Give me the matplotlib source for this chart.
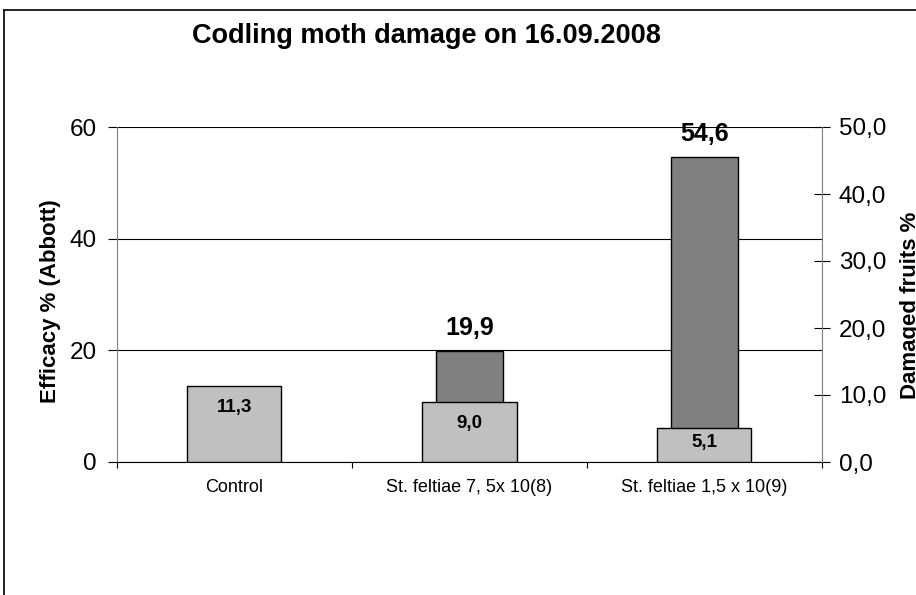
import numpy as np
import matplotlib
matplotlib.use("Agg")
import matplotlib.pyplot as plt
from matplotlib.lines import Line2D

plt.rcParams['font.family'] = ['Liberation Sans', 'DejaVu Sans']

# data
categories = ['Control', 'St. feltiae 7, 5x 10(8)', 'St. feltiae 1,5 x 10(9)']
efficacy = [np.nan, 19.9, 54.6]       # left axis, Abbott %
damaged = [11.3, 9.0, 5.1]            # right axis, damaged fruits %
left_ticks = [0, 20, 40, 60]
right_ticks = [0, 10, 20, 30, 40, 50]

W, H = 916, 595
fig = plt.figure(figsize=(W / 100, H / 100), dpi=100)
ax = fig.add_axes([117 / W, 133 / H, 705 / W, 335 / H])
ax2 = ax.twinx()

x = np.arange(len(categories))

# dark bars (efficacy) on the left axis
ax.bar(x, efficacy, width=0.285, color='#808080', edgecolor='black', linewidth=1, zorder=3)
ax.set_ylim(0, 60)
ax.set_xlim(-0.5, 2.5)
ax.set_yticks(left_ticks)
ax.set_yticklabels([str(t) for t in left_ticks])
ax.yaxis.grid(True, color='black', linewidth=0.8)
ax.set_axisbelow(True)

# light bars (damaged fruits) on the right axis
ax2.bar(x, damaged, width=0.4, color='#c0c0c0', edgecolor='black', linewidth=1, zorder=3)
ax2.set_ylim(0, 50)
ax2.set_yticks(right_ticks)
ax2.set_yticklabels(['{:.1f}'.format(t).replace('.', ',') for t in right_ticks])

# spines
for a in (ax, ax2):
    a.spines['top'].set_visible(False)
    a.spines['bottom'].set_color('black')
    a.spines['left'].set_color('#808080')
    a.spines['right'].set_color('#808080')
ax2.spines['left'].set_visible(False)
ax.spines['right'].set_visible(False)
ax2.spines['bottom'].set_visible(False)

ax.tick_params(axis='y', direction='out', length=6.5, width=0.8, color='black',
               labelsize=17.5, pad=8)
ax2.tick_params(axis='y', direction='inout', length=12, width=0.8, color='black',
                labelsize=17.5, pad=6)

# x axis: labels at centres, ticks at category boundaries
ax.set_xticks(x)
ax.set_xticklabels(categories, fontsize=13)
ax.tick_params(axis='x', which='major', length=0, pad=12)
ax.set_xticks(np.arange(-0.5, 3, 1), minor=True)
ax.tick_params(axis='x', which='minor', direction='out', length=4.5, width=0.8, color='black')

# value labels
for xi, v in zip(x, efficacy):
    if np.isnan(v):
        continue
    ax.annotate('{:.1f}'.format(v).replace('.', ','), (xi, v), xytext=(0, 16.5),
                textcoords='offset points', ha='center', va='center',
                fontsize=18, fontweight='bold', zorder=5)
for xi, v in zip(x, damaged):
    ypos = max(v - 3.2, v * 0.58)
    ax2.text(xi, ypos, '{:.1f}'.format(v).replace('.', ','), ha='center', va='center',
             fontsize=13.5, fontweight='bold', zorder=5)

# titles
fig.text(426 / W, 1 - 36 / H, 'Codling moth damage on 16.09.2008',
         ha='center', va='center', fontsize=19.5, fontweight='bold')
fig.text(51 / W, 1 - 301 / H, 'Efficacy % (Abbott)', rotation=90,
         ha='center', va='center', fontsize=16, fontweight='bold')
fig.text(900 / W, 1 - 305 / H, 'Damaged fruits %', rotation=90,
         ha='left', va='center', fontsize=16, fontweight='bold')

# chart border (only top and left edges visible)
fig.add_artist(Line2D([4 / W, 4 / W], [0, 1 - 10 / H], color='black', linewidth=1.2))
fig.add_artist(Line2D([4 / W, 1], [1 - 10 / H, 1 - 10 / H], color='black', linewidth=1.2))

fig.savefig('out.png', dpi=100)
